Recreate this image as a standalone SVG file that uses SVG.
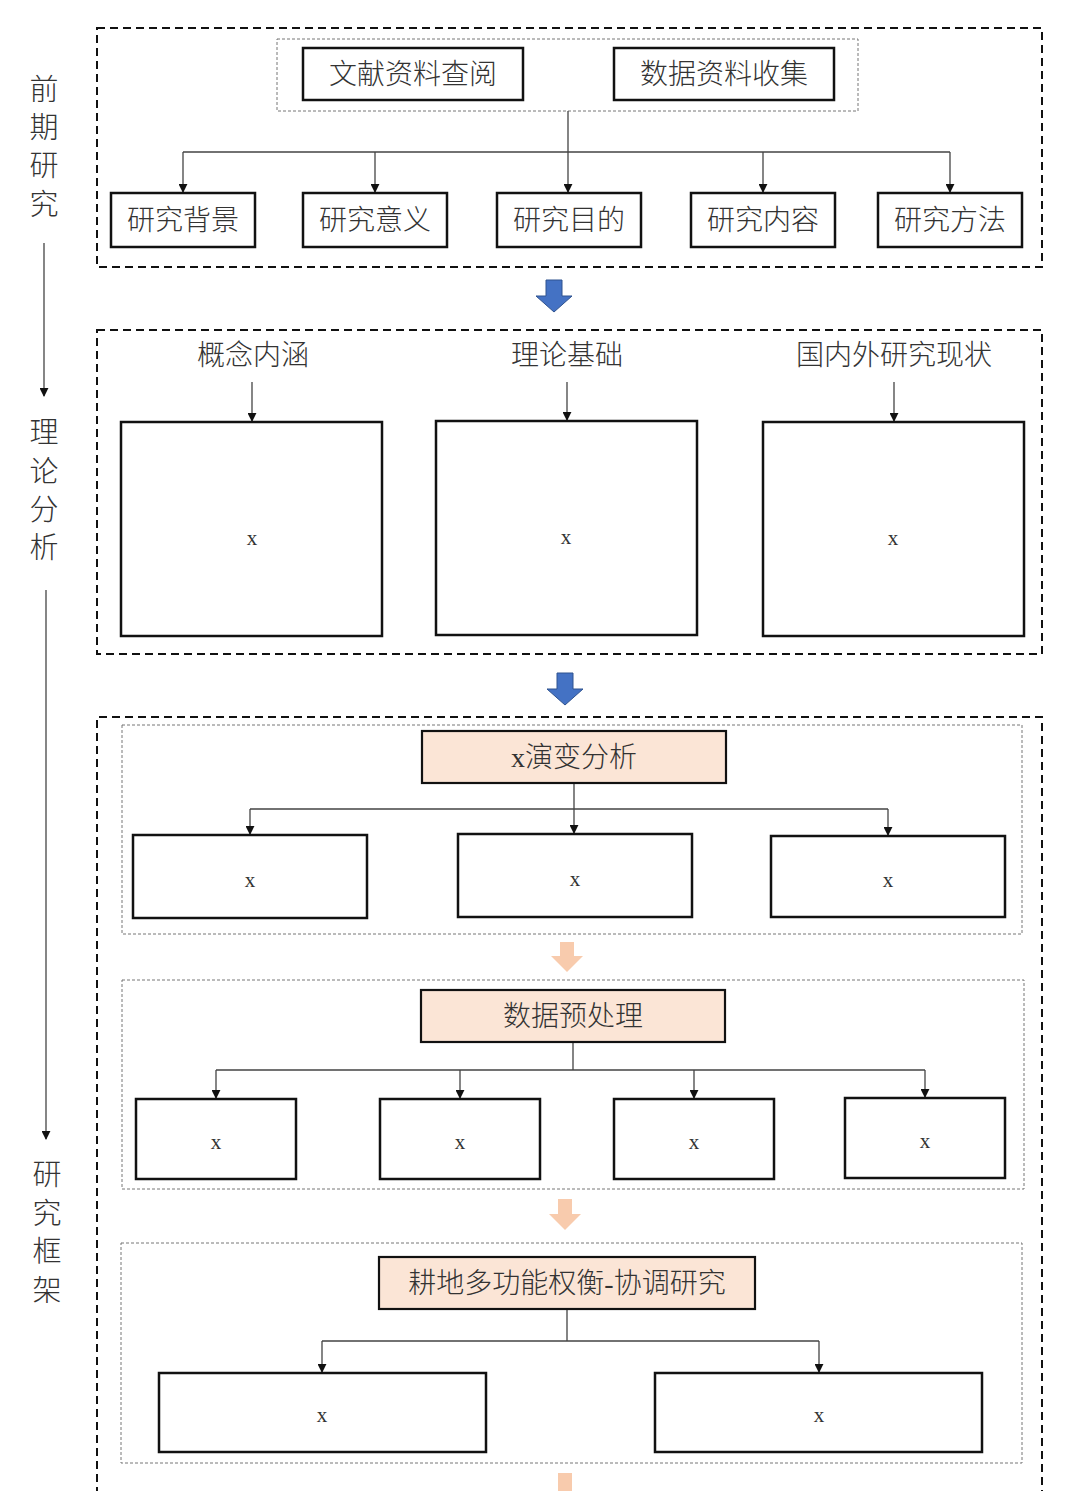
<svg xmlns="http://www.w3.org/2000/svg" width="1080" height="1491" viewBox="0 0 1080 1491">
<defs>
<style>
.t{font-family:"Liberation Serif","Noto Sans CJK SC",serif;fill:#333;text-anchor:middle;dominant-baseline:central}
.lb{font-size:28px;font-weight:300}
.side{font-size:29px;font-weight:300}
.x{font-size:21px}
.outer{fill:none;stroke:#111;stroke-width:2;stroke-dasharray:8 5}
.inner{fill:none;stroke:#777;stroke-width:1;stroke-dasharray:3 2}
.box{fill:#fff;stroke:#111;stroke-width:2.5}
.hdr{fill:#FBE5D6;stroke:#111;stroke-width:2.2}
.ln{fill:none;stroke:#444;stroke-width:1.3}
.blue{fill:#4472C4;stroke:#2F528F;stroke-width:1}
.org{fill:#F8CBAD;stroke:none}
</style>
<marker id="ah" viewBox="0 0 10 10" refX="9" refY="5" markerWidth="9" markerHeight="9" markerUnits="userSpaceOnUse" orient="auto">
<path d="M0,0 L10,5 L0,10 z" fill="#111"/>
</marker>
</defs>
<rect width="1080" height="1491" fill="#fff"/>

<g id="frames">
<rect class="outer" x="97" y="28" width="945" height="239"/>
<rect class="inner" x="277" y="39" width="581" height="72"/>
<rect class="outer" x="97" y="330" width="945" height="324"/>
<path class="outer" d="M97,1495 V717 H1042 V1495"/>
<rect class="inner" x="122" y="725" width="900" height="209"/>
<rect class="inner" x="122" y="980" width="902" height="209"/>
<rect class="inner" x="121" y="1243" width="901" height="220"/>
</g>

<g id="side">
<text class="t side" x="44" y="90">前</text>
<text class="t side" x="44" y="128">期</text>
<text class="t side" x="44" y="166">研</text>
<text class="t side" x="44" y="205">究</text>
<text class="t side" x="44" y="433">理</text>
<text class="t side" x="44" y="472">论</text>
<text class="t side" x="44" y="510">分</text>
<text class="t side" x="44" y="548">析</text>
<text class="t side" x="47" y="1175">研</text>
<text class="t side" x="47" y="1214">究</text>
<text class="t side" x="47" y="1252">框</text>
<text class="t side" x="47" y="1291">架</text>
</g>

<g id="connectors">
<line class="ln" x1="44" y1="243" x2="44" y2="396" marker-end="url(#ah)"/>
<line class="ln" x1="46" y1="590" x2="46" y2="1139" marker-end="url(#ah)"/>
<path class="ln" d="M568,111 V152 M183,152 H950"/>
<line class="ln" x1="183" y1="152" x2="183" y2="192" marker-end="url(#ah)"/>
<line class="ln" x1="375" y1="152" x2="375" y2="192" marker-end="url(#ah)"/>
<line class="ln" x1="568" y1="152" x2="568" y2="192" marker-end="url(#ah)"/>
<line class="ln" x1="763" y1="152" x2="763" y2="192" marker-end="url(#ah)"/>
<line class="ln" x1="950" y1="152" x2="950" y2="192" marker-end="url(#ah)"/>
<line class="ln" x1="252" y1="382" x2="252" y2="421" marker-end="url(#ah)"/>
<line class="ln" x1="567" y1="382" x2="567" y2="420" marker-end="url(#ah)"/>
<line class="ln" x1="894" y1="382" x2="894" y2="421" marker-end="url(#ah)"/>
<path class="ln" d="M574,783 V809 M250,809 H888"/>
<line class="ln" x1="250" y1="809" x2="250" y2="834" marker-end="url(#ah)"/>
<line class="ln" x1="574" y1="809" x2="574" y2="833" marker-end="url(#ah)"/>
<line class="ln" x1="888" y1="809" x2="888" y2="835" marker-end="url(#ah)"/>
<path class="ln" d="M573,1042 V1070 M216,1070 H925"/>
<line class="ln" x1="216" y1="1070" x2="216" y2="1098" marker-end="url(#ah)"/>
<line class="ln" x1="460" y1="1070" x2="460" y2="1098" marker-end="url(#ah)"/>
<line class="ln" x1="694" y1="1070" x2="694" y2="1098" marker-end="url(#ah)"/>
<line class="ln" x1="925" y1="1070" x2="925" y2="1097" marker-end="url(#ah)"/>
<path class="ln" d="M567,1309 V1341 M322,1341 H819"/>
<line class="ln" x1="322" y1="1341" x2="322" y2="1372" marker-end="url(#ah)"/>
<line class="ln" x1="819" y1="1341" x2="819" y2="1372" marker-end="url(#ah)"/>
</g>

<g id="flow-arrows">
<path class="blue" d="M546,280 H562 V296 H572 L554,312 L536,296 H546 Z"/>
<path class="blue" d="M557,673 H573 V689 H583 L565,705 L547,689 H557 Z"/>
<path class="org" d="M560,942 H574 V956 H583 L567,972 L551,956 H560 Z"/>
<path class="org" d="M558,1199 H572 V1214 H581 L565,1230 L549,1214 H558 Z"/>
<rect class="org" x="558" y="1473" width="14" height="20"/>
</g>

<g id="n-wxzl"><rect class="box" x="303" y="48" width="220" height="52"/><text class="t lb" x="413" y="74">文献资料查阅</text></g>
<g id="n-sjzl"><rect class="box" x="614" y="48" width="220" height="52"/><text class="t lb" x="724" y="74">数据资料收集</text></g>
<g id="n-bj"><rect class="box" x="111" y="193" width="144" height="54"/><text class="t lb" x="183" y="220">研究背景</text></g>
<g id="n-yy"><rect class="box" x="303" y="193" width="144" height="54"/><text class="t lb" x="375" y="220">研究意义</text></g>
<g id="n-md"><rect class="box" x="497" y="193" width="144" height="54"/><text class="t lb" x="569" y="220">研究目的</text></g>
<g id="n-nr"><rect class="box" x="691" y="193" width="144" height="54"/><text class="t lb" x="763" y="220">研究内容</text></g>
<g id="n-ff"><rect class="box" x="878" y="193" width="144" height="54"/><text class="t lb" x="950" y="220">研究方法</text></g>

<g id="n-gn"><text class="t lb" x="253" y="355">概念内涵</text><rect class="box" x="121" y="422" width="261" height="214"/><text class="t x" x="252" y="538">x</text></g>
<g id="n-ll"><text class="t lb" x="567" y="355">理论基础</text><rect class="box" x="436" y="421" width="261" height="214"/><text class="t x" x="566" y="537">x</text></g>
<g id="n-gnw"><text class="t lb" x="894" y="355">国内外研究现状</text><rect class="box" x="763" y="422" width="261" height="214"/><text class="t x" x="893" y="538">x</text></g>

<g id="n-yb"><rect class="hdr" x="422" y="731" width="304" height="52"/><text class="t lb" x="574" y="757">x演变分析</text></g>
<g id="n-yb1"><rect class="box" x="133" y="835" width="234" height="83"/><text class="t x" x="250" y="880">x</text></g>
<g id="n-yb2"><rect class="box" x="458" y="834" width="234" height="83"/><text class="t x" x="575" y="879">x</text></g>
<g id="n-yb3"><rect class="box" x="771" y="836" width="234" height="81"/><text class="t x" x="888" y="880">x</text></g>

<g id="n-sj"><rect class="hdr" x="421" y="990" width="304" height="52"/><text class="t lb" x="573" y="1016">数据预处理</text></g>
<g id="n-sj1"><rect class="box" x="136" y="1099" width="160" height="80"/><text class="t x" x="216" y="1142">x</text></g>
<g id="n-sj2"><rect class="box" x="380" y="1099" width="160" height="80"/><text class="t x" x="460" y="1142">x</text></g>
<g id="n-sj3"><rect class="box" x="614" y="1099" width="160" height="80"/><text class="t x" x="694" y="1142">x</text></g>
<g id="n-sj4"><rect class="box" x="845" y="1098" width="160" height="80"/><text class="t x" x="925" y="1141">x</text></g>

<g id="n-gd"><rect class="hdr" x="379" y="1257" width="376" height="52"/><text class="t lb" x="567" y="1283">耕地多功能权衡-协调研究</text></g>
<g id="n-gd1"><rect class="box" x="159" y="1373" width="327" height="79"/><text class="t x" x="322" y="1415">x</text></g>
<g id="n-gd2"><rect class="box" x="655" y="1373" width="327" height="79"/><text class="t x" x="819" y="1415">x</text></g>
</svg>
